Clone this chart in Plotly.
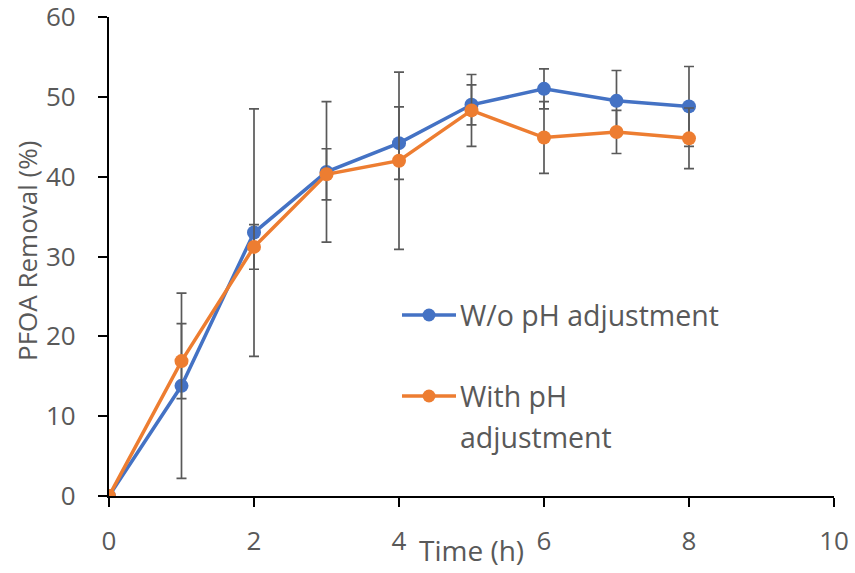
import plotly.graph_objects as go

time_h = [0, 1, 2, 3, 4, 5, 6, 7, 8]
wo_ph = [0, 13.8, 33.0, 40.6, 44.2, 49.0, 51.0, 49.5, 48.8]
wo_ph_err = [0, 11.6, 15.5, 8.8, 4.55, 2.5, 2.5, 3.8, 5.0]
with_ph = [0, 16.9, 31.2, 40.3, 42.0, 48.3, 44.9, 45.6, 44.8]
with_ph_err = [0, 4.7, 2.8, 3.2, 11.1, 4.5, 4.5, 2.7, 3.8]
x_ticks = [0, 2, 4, 6, 8, 10]
y_ticks = [0, 10, 20, 30, 40, 50, 60]
series_names = ["W/o pH adjustment", "With pH adjustment"]

BLUE = "#4472C4"
ORANGE = "#ED7D31"
GRAY = "#595959"
FONT = "Open Sans"

W, H = 855, 573
L, R, T, B = 109, 834, 17, 496

def px(x):
    return (x - L) / (R - L)

def py(y):
    return (B - y) / (B - T)

fig = go.Figure()
for name, ys, errs, col in [(series_names[0], wo_ph, wo_ph_err, BLUE),
                            (series_names[1], with_ph, with_ph_err, ORANGE)]:
    fig.add_trace(go.Scatter(
        x=time_h, y=ys, name=name, mode="lines+markers",
        line=dict(color=col, width=3.5),
        marker=dict(color=col, size=14),
        error_y=dict(type="data", array=errs, visible=True,
                     color=GRAY, thickness=1.7, width=5),
        showlegend=False,
    ))

axis_common = dict(
    showline=True, linecolor="black", linewidth=1.7,
    ticks="outside", ticklen=9, tickwidth=1.5, tickcolor="black",
    showgrid=False, zeroline=False, ticklabeloverflow="allow", automargin=False,
    tickfont=dict(family=FONT, size=26, color=GRAY),
)
fig.update_xaxes(range=[0, 10.0001], tickvals=x_ticks, ticklabelstandoff=12, **axis_common)
fig.update_yaxes(range=[0, 60.0001], tickvals=y_ticks,
                 ticktext=[f"{v}\u2002\u2009" for v in y_ticks], **axis_common)

annotations = [
    dict(text="Time (h)", xref="paper", yref="paper", x=0.5, y=py(550),
         xanchor="center", yanchor="middle", showarrow=False,
         font=dict(family=FONT, size=28, color=GRAY)),
    dict(text="PFOA Removal (%)", xref="paper", yref="paper", x=px(27), y=py(251),
         xanchor="center", yanchor="middle", showarrow=False, textangle=-90,
         font=dict(family=FONT, size=26, color=GRAY)),
    dict(text=series_names[0], xref="paper", yref="paper", x=px(458), y=py(315),
         xanchor="left", yanchor="middle", showarrow=False,
         font=dict(family=FONT, size=28.5, color=GRAY)),
    dict(text="With pH", xref="paper", yref="paper", x=px(458), y=py(396),
         xanchor="left", yanchor="middle", showarrow=False,
         font=dict(family=FONT, size=28.5, color=GRAY)),
    dict(text="adjustment", xref="paper", yref="paper", x=px(458), y=py(437),
         xanchor="left", yanchor="middle", showarrow=False,
         font=dict(family=FONT, size=28.5, color=GRAY)),
]

shapes = []
for ly, col in [(315, BLUE), (396, ORANGE)]:
    shapes.append(dict(type="line", xref="paper", yref="paper",
                       x0=px(402), x1=px(456), y0=py(ly), y1=py(ly),
                       line=dict(color=col, width=3.5)))
    shapes.append(dict(type="circle", xref="paper", yref="paper",
                       x0=px(422.5), x1=px(435.5), y0=py(ly + 6.5), y1=py(ly - 6.5),
                       fillcolor=col, line=dict(color=col, width=0)))

fig.update_layout(
    width=W, height=H,
    margin=dict(l=L, r=W - R, t=T, b=H - B, pad=0, autoexpand=False),
    plot_bgcolor="white", paper_bgcolor="white",
    annotations=annotations, shapes=shapes,
    showlegend=False,
)

fig.write_html("out.html", config={"displayModeBar": False},
               post_script="document.body.style.margin='0';document.body.style.overflow='hidden';")
